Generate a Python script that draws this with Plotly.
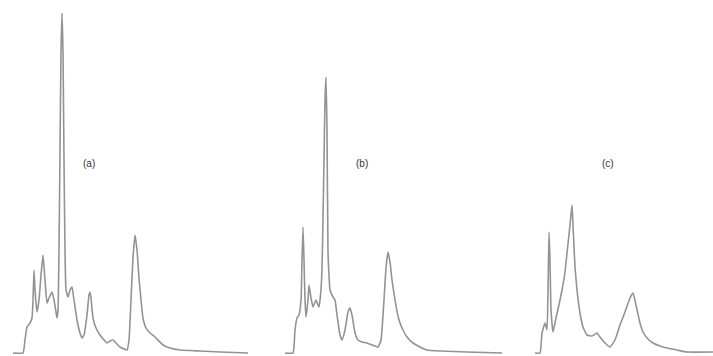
import plotly.graph_objects as go

# Retention time (arbitrary units) and detector response for each chromatogram
time_a = [13, 23, 25, 27, 30, 32, 33, 34, 35, 37, 39, 41, 43, 45, 47, 49, 52, 54, 56, 57, 58, 59, 60, 61, 62, 63, 64, 65, 66, 68, 70, 72, 74, 77, 80, 82, 84, 87, 89, 90, 91, 93, 96, 100, 104, 107, 110, 113, 116, 120, 124, 127, 129, 131, 133, 135, 137, 139, 141, 143, 146, 150, 155, 163, 170, 180, 200, 220, 248]
resp_a = [0, 0, 13, 26, 30, 35, 53, 83, 63, 41, 53, 78, 98, 73, 50, 55, 61, 53, 41, 35, 43, 103, 203, 300, 340, 300, 193, 103, 63, 56, 63, 66, 53, 33, 20, 15, 18, 38, 58, 61, 55, 35, 25, 18, 13, 10, 12, 13, 10, 6, 4, 3, 13, 53, 95, 118, 103, 75, 53, 35, 25, 20, 16, 8, 5, 3, 2, 1, 0]

time_b = [285, 293, 295, 297, 299, 301, 302, 303, 304, 305, 306, 308, 309, 311, 313, 315, 316, 318, 319, 321, 322, 323, 324, 325, 326, 327, 328, 329, 330, 333, 335, 337, 340, 342, 345, 348, 350, 352, 355, 358, 362, 367, 372, 378, 381, 384, 386, 388, 390, 392, 395, 398, 400, 403, 407, 413, 420, 427, 440, 467, 502]
resp_b = [0, 0, 23, 35, 38, 53, 93, 126, 93, 53, 36, 53, 68, 55, 46, 51, 53, 48, 46, 63, 85, 133, 193, 253, 276, 223, 101, 78, 63, 56, 53, 38, 18, 13, 23, 41, 45, 38, 20, 13, 11, 10, 8, 6, 13, 53, 85, 101, 91, 73, 53, 37, 30, 23, 16, 10, 6, 3, 2, 1, 0]

time_c = [535, 540, 542, 545, 547, 548, 549, 550, 551, 553, 556, 560, 562, 565, 567, 570, 572, 573, 575, 577, 580, 583, 587, 592, 597, 600, 605, 610, 615, 620, 625, 630, 633, 636, 640, 643, 648, 653, 660, 667, 677, 687, 713]
resp_c = [0, 0, 20, 30, 23, 63, 121, 93, 43, 21, 35, 53, 63, 81, 100, 128, 148, 128, 86, 63, 40, 26, 18, 17, 20, 16, 10, 6, 13, 28, 41, 55, 60, 48, 30, 21, 14, 10, 7, 5, 3, 1, 1]

labels = ["(a)", "(b)", "(c)"]
label_time = [89, 362, 608]
label_resp = [190, 190, 190]

fig = go.Figure()
for t, r in [(time_a, resp_a), (time_b, resp_b), (time_c, resp_c)]:
    fig.add_trace(go.Scatter(x=t, y=r, mode="lines",
                             line=dict(color="#939393", width=1.6, shape="spline", smoothing=0.4),
                             showlegend=False, hoverinfo="skip"))

for lab, x, y in zip(labels, label_time, label_resp):
    fig.add_annotation(x=x, y=y, text=lab, showarrow=False,
                       font=dict(family="Liberation Sans, Arial", size=10, color="#333333"))

fig.update_layout(
    width=713, height=356,
    margin=dict(l=0, r=0, t=0, b=0),
    paper_bgcolor="white", plot_bgcolor="white",
    xaxis=dict(range=[0, 713], visible=False),
    yaxis=dict(range=[-3, 353], visible=False),
)
fig.write_html("out.html")
